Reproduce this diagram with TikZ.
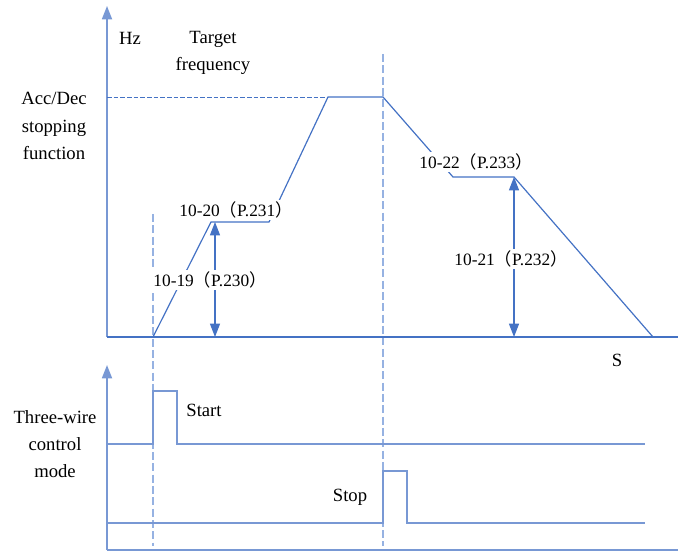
\documentclass[tikz,border=0pt]{standalone}
\usepackage{fontspec}
\setmainfont{Liberation Serif}
\newfontfamily\cjkfont{Noto Sans CJK SC}
\usetikzlibrary{arrows.meta,positioning,calc}
\definecolor{AxisBlue}{RGB}{120,152,212}
\definecolor{LineBlue}{RGB}{68,114,196}
\definecolor{GuideBlue}{RGB}{150,178,226}
\newcommand{\parref}[2]{#1{\cjkfont （}P.#2{\cjkfont ）}}

\begin{document}
\begin{tikzpicture}[
      x=0.75pt,y=-0.75pt,
      axisLine/.style={AxisBlue,line width=1.3pt},
      axisArrow/.style={axisLine,-{Triangle[length=10pt,width=7.5pt]}},
      curveLine/.style={LineBlue,line width=0.9pt},
      signalLine/.style={AxisBlue,line width=1.1pt},
      guideLine/.style={GuideBlue,line width=1pt,dash pattern=on 6pt off 2.5pt},
      targetLine/.style={LineBlue,line width=0.6pt,dash pattern=on 3.5pt off 1.5pt},
      dimArrow/.style={LineBlue,line width=0.9pt,
                       {Triangle[length=10pt,width=7.5pt]}-{Triangle[length=10pt,width=7.5pt]}},
      txtLbl/.style={font=\fontsize{14}{20.5}\selectfont,align=center,inner sep=0pt},
      parLbl/.style={font=\fontsize{13}{15}\selectfont,fill=white,inner sep=1.5pt}
    ]
    \useasboundingbox (0,0) rectangle (678,555);

    % Vertical guides at start and stop
    \coordinate (gStartTop) at (153,214);
    \coordinate (gStartBot) at (153,546);
    \coordinate (gStopTop)  at (383,54);
    \coordinate (gStopBot)  at (383,546);
    \draw[guideLine] (gStartTop) -- (gStartBot);
    \draw[guideLine] (gStopTop) -- (gStopBot);

    % Upper plot: frequency axes
    \coordinate (o1) at (107,337);
    \coordinate (hzTip) at (107,6);
    \coordinate (sEnd) at (678,337);
    \draw[axisArrow] (o1) -- (hzTip);
    \draw[curveLine] (o1) -- (sEnd);

    % Frequency profile
    \coordinate (f0) at (153,337);
    \coordinate (f1) at (211,222);
    \coordinate (f2) at (269,222);
    \coordinate (f3) at (328,97);
    \coordinate (f4) at (383,97);
    \coordinate (f5) at (453,177);
    \coordinate (f6) at (514,177);
    \coordinate (f7) at (653,337);
    \draw[targetLine] (o1 |- f3) -- (f3);
    \draw[curveLine] (f0) -- (f1) -- (f2) -- (f3) -- (f4) -- (f5) -- (f6) -- (f7);

    % Dimension arrows
    \draw[dimArrow] (215,222) -- (215,337);
    \draw[dimArrow] (f6) -- (f6 |- o1);

    % Axis texts
    \node(hz)[txtLbl] at (130,38) {Hz};
    \node(target)[txtLbl] at (213,53) {Target\\frequency};
    \node(accdec)[txtLbl] at (54,126) {Acc/Dec\\stopping\\function};
    \node(sec)[txtLbl] at (617,360) {S};

    % Parameter labels
    \node(p231)[parLbl] at (236,210) {\parref{10-20}{231}};
    \node(p230)[parLbl] at (210,280) {\parref{10-19}{230}};
    \node(p233)[parLbl] at (476,162) {\parref{10-22}{233}};
    \node(p232)[parLbl] at (511,259) {\parref{10-21}{232}};

    % Lower plot: three-wire signals
    \coordinate (o2) at (107,550);
    \coordinate (sigTip) at (107,365);
    \draw[axisArrow] (o2) -- (sigTip);
    \draw[signalLine] (o2) -- (678,550);
    \draw[signalLine] (107,444) -- (153,444) -- (153,391) -- (177,391)
      -- (177,444) -- (645,444);
    \draw[signalLine] (107,523) -- (383,523) -- (383,471) -- (407,471)
      -- (407,523) -- (645,523);

    \node(start)[txtLbl] at (204,410) {Start};
    \node(stop)[txtLbl] at (350,497) {Stop};
    \node(mode)[txtLbl] at (55,444) {Three-wire\\control\\mode};
  \end{tikzpicture}
\end{document}
